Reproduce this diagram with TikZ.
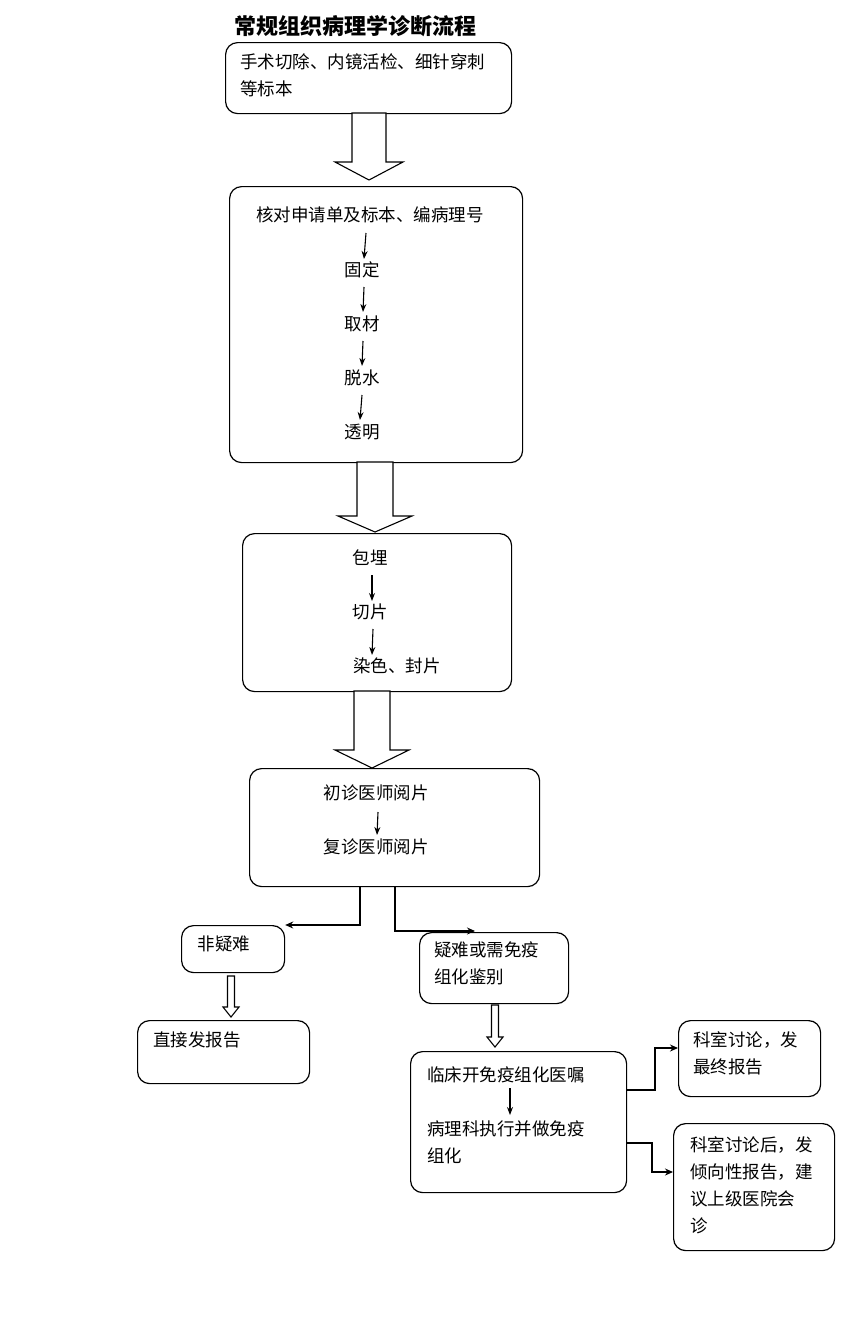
\documentclass[tikz,border=0pt]{standalone}
\usepackage{fontspec}
\newfontfamily\cjk{Noto Sans CJK SC}
\usetikzlibrary{arrows.meta,calc}
\tikzset{
 box/.style={draw,rounded corners=12pt,line width=1.2pt,anchor=north west,inner sep=0pt},
 txt/.style={font=\cjk\fontsize{17.5}{27}\selectfont,inner sep=0pt,align=left},
 small/.style={-{Stealth[length=8pt,width=6pt]},line width=1.1pt},
 conn/.style={-{Stealth[length=8pt,width=7pt]},line width=1.2pt},
 barrow/.style={draw,line width=1.1pt,fill=white}
}
\newcommand{\blockarr}[6]{% x, ytop, ybot, shaft half, head half, head len
 \draw[barrow] ({#1-#4},#2) -- ({#1+#4},#2) -- ({#1+#4},{#3-#6}) -- ({#1+#5},{#3-#6}) -- (#1,#3) -- ({#1-#5},{#3-#6}) -- ({#1-#4},{#3-#6}) -- cycle;}
\newcommand{\mkbox}[5]{\node[box,minimum width={(#4-#2)*1pt},minimum height={(#5-#3)*1pt}] (#1) at (#2,#3) {};}
\begin{document}
\begin{tikzpicture}[x=1pt,y=-1pt]
\useasboundingbox[fill=white] (0,0) rectangle (851,1320);
\node[font=\cjk\bfseries\fontsize{22}{24}\selectfont] (title) at (355,26) {常规组织病理学诊断流程};
% boxes
\mkbox{b1}{225}{42}{511}{113}
\mkbox{b2}{229}{186}{522}{462}
\mkbox{b3}{242}{533}{511}{691}
\mkbox{b4}{249}{768}{539}{886}
\mkbox{b5}{181}{925}{284}{972}
\mkbox{b6}{419}{932}{568}{1003}
\mkbox{b7}{137}{1020}{309}{1083}
\mkbox{b8}{410}{1051}{626}{1192}
\mkbox{b9}{678}{1020}{820}{1096}
\mkbox{b10}{673}{1123}{834}{1250}
% texts
\node[txt,anchor=north west] (t1) at (240,53) {手术切除、内镜活检、细针穿刺\\等标本};
\node[txt] (t2a) at (370,215) {核对申请单及标本、编病理号};
\node[txt] (t2b) at (362,270) {固定};
\node[txt] (t2c) at (362,324) {取材};
\node[txt] (t2d) at (362,378) {脱水};
\node[txt] (t2e) at (362,432) {透明};
\node[txt] (t3a) at (370,558) {包埋};
\node[txt] (t3b) at (370,612) {切片};
\node[txt] (t3c) at (397,666) {染色、封片};
\node[txt] (t4a) at (376,793) {初诊医师阅片};
\node[txt] (t4b) at (376,847) {复诊医师阅片};
\node[txt] (t5) at (224,944) {非疑难};
\node[txt,anchor=north west] (t6) at (434,941) {疑难或需免疫\\组化鉴别};
\node[txt,anchor=north west] (t7) at (153,1032) {直接发报告};
\node[txt,anchor=north west] (t8a) at (427,1066) {临床开免疫组化医嘱};
\node[txt,anchor=north west] (t8b) at (427,1120) {病理科执行并做免疫\\组化};
\node[txt,anchor=north west] (t9) at (693,1031) {科室讨论，发\\最终报告};
\node[txt,anchor=north west] (t10) at (690,1136) {科室讨论后，发\\倾向性报告，建\\议上级医院会\\诊};
% small arrows
\draw[small] (366,233) -- (364,259);
\draw[small] (364,287) -- (363,312);
\draw[small] (363,341) -- (362,366);
\draw[small] (362,395) -- (360,420);
\draw[small] (372,575) -- (372,601);
\draw[small] (373,629) -- (372,655);
\draw[small] (378,812) -- (377,835);
\draw[small] (510,1088) -- (510,1115);
% block arrows
\blockarr{369}{113}{180}{17}{34}{18}
\blockarr{375}{462}{532}{18}{37}{16}
\blockarr{372}{691}{768}{18}{37}{18}
\blockarr{231}{976}{1017}{3.5}{8}{10}
\blockarr{495}{1005}{1047}{3.5}{8}{10}
% connectors
\coordinate (c1) at (360,886);
\coordinate (c2) at (395,886);
\draw[conn] (c1) -- (360,925) -- (b5.east |- 0,925);
\draw[conn] (c2) -- (395,931) -- (475,931);
\draw[conn] (b8.east |- 0,1090) -- (655,1090) -- (655,1048) -- (b9.west |- 0,1048);
\draw[conn] (b8.east |- 0,1143) -- (652,1143) -- (652,1172) -- (b10.west |- 0,1172);
\end{tikzpicture}
\end{document}
